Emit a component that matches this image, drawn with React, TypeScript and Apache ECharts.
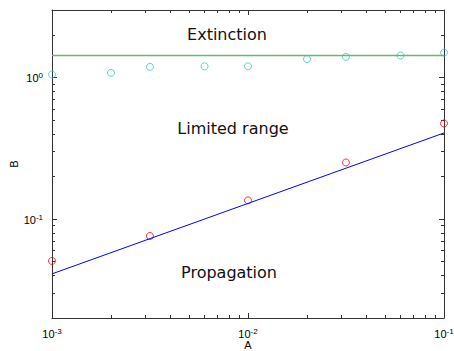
import React, { useEffect, useRef } from "react";
import * as echarts from "echarts";

const cyanX = [0.001, 0.002, 0.00316, 0.006, 0.01, 0.02, 0.0316, 0.06, 0.1];
const cyanY = [1.05, 1.08, 1.19, 1.2, 1.2, 1.35, 1.4, 1.43, 1.5];
const greenX = [0.001, 0.1];
const greenY = [1.43, 1.43];
const redX = [0.001, 0.00316, 0.01, 0.0316, 0.1];
const redY = [0.0506, 0.0759, 0.1355, 0.251, 0.474];
const blueX = [0.001, 0.1];
const blueY = [0.041, 0.406];
const xRange = [0.001, 0.1];
const yRange = [0.02, 3];
const xMajor = [0.001, 0.01, 0.1];
const yMajor = [0.1, 1];
const xMinor = [0.002, 0.003, 0.004, 0.005, 0.006, 0.007, 0.008, 0.009, 0.02, 0.03, 0.04, 0.05, 0.06, 0.07, 0.08, 0.09];
const yMinor = [0.03, 0.04, 0.05, 0.06, 0.07, 0.08, 0.09, 0.2, 0.3, 0.4, 0.5, 0.6, 0.7, 0.8, 0.9, 2];
const regionLabels = ["Extinction", "Limited range", "Propagation"];

const pair = (xs: number[], ys: number[]) => xs.map((x, i) => [x, ys[i]]);

const fmt = (v: number) => {
  const l = Math.log10(v);
  const e = Math.round(l);
  if (Math.abs(l - e) > 1e-6) return "";
  return "{base|10}{sup|" + e + "}";
};

const axisFont = "Liberation Sans, Arial, sans-serif";
const lineColor = "#333";

function makeAxis(
  pos: string,
  range: number[],
  showLabel: boolean,
  name: string,
  nameGap: number,
  ticks: number[],
  tickLen: number,
  showLine: boolean
) {
  return {
    type: "log",
    logBase: 10,
    min: range[0],
    max: range[1],
    position: pos,
    name,
    nameLocation: "middle",
    nameGap,
    nameMoveOverlap: false,
    nameTextStyle: { fontFamily: axisFont, fontSize: 11, lineHeight: 11, color: "#000" },
    axisLine: { show: showLine, onZero: false, lineStyle: { color: lineColor, width: 1 } },
    axisTick: { show: true, inside: true, length: tickLen, customValues: ticks, lineStyle: { color: lineColor } },
    minorTick: { show: false },
    splitLine: { show: false },
    minorSplitLine: { show: false },
    axisLabel: showLabel
      ? {
          show: true,
          customValues: ticks,
          formatter: fmt,
          margin: 9,
          fontFamily: axisFont,
          fontSize: 11,
          lineHeight: 12,
          color: "#000",
          rich: {
            base: { fontSize: 11, fontFamily: axisFont, color: "#000", lineHeight: 12, verticalAlign: "bottom" },
            sup: { fontSize: 8, fontFamily: axisFont, color: "#000", lineHeight: 12, verticalAlign: "top" },
          },
        }
      : { show: false },
  };
}

export default function App() {
  const ref = useRef<HTMLDivElement>(null);
  useEffect(() => {
    const chart = echarts.init(ref.current!, null, { renderer: "svg" });
    const textStyle = { fontFamily: "DejaVu Sans", fontSize: 16, fill: "#111" };
    chart.setOption({
      animation: false,
      backgroundColor: "#fff",
      grid: { left: 52, top: 10, right: 10, bottom: 33, containLabel: false, outerBoundsMode: "none" },
      xAxis: [
        makeAxis("bottom", xRange, true, "A", 21, xMajor, 5, true),
        makeAxis("top", xRange, false, "", 0, xMajor, 5, true),
        makeAxis("bottom", xRange, false, "", 0, xMinor, 3, false),
        makeAxis("top", xRange, false, "", 0, xMinor, 3, false),
      ],
      yAxis: [
        makeAxis("left", yRange, true, "B", 33, yMajor, 5, true),
        makeAxis("right", yRange, false, "", 0, yMajor, 5, true),
        makeAxis("left", yRange, false, "", 0, yMinor, 3, false),
        makeAxis("right", yRange, false, "", 0, yMinor, 3, false),
      ],
      series: [
        {
          type: "line",
          data: pair(greenX, greenY),
          symbol: "none",
          lineStyle: { color: "#66bb66", width: 1.5 },
          itemStyle: { color: "#66bb66" },
        },
        {
          type: "line",
          data: pair(blueX, blueY),
          symbol: "none",
          lineStyle: { color: "#0000ff", width: 1 },
          itemStyle: { color: "#0000ff" },
        },
        {
          type: "scatter",
          data: pair(cyanX, cyanY),
          symbol: "circle",
          symbolSize: 7,
          itemStyle: { color: "transparent", borderColor: "#30c8c8", borderWidth: 1 },
        },
        {
          type: "scatter",
          data: pair(redX, redY),
          symbol: "circle",
          symbolSize: 7,
          itemStyle: { color: "transparent", borderColor: "#ff0000", borderWidth: 1 },
        },
      ],
      graphic: [
        { type: "text", x: 227, y: 34, style: { ...textStyle, text: regionLabels[0], align: "center", verticalAlign: "middle" } },
        { type: "text", x: 233, y: 128, style: { ...textStyle, text: regionLabels[1], align: "center", verticalAlign: "middle" } },
        { type: "text", x: 229, y: 272, style: { ...textStyle, text: regionLabels[2], align: "center", verticalAlign: "middle" } },
      ],
    });
    return () => chart.dispose();
  }, []);
  return <div ref={ref} style={{ position: "absolute", left: 0, top: 0, width: 454, height: 351 }} />;
}
